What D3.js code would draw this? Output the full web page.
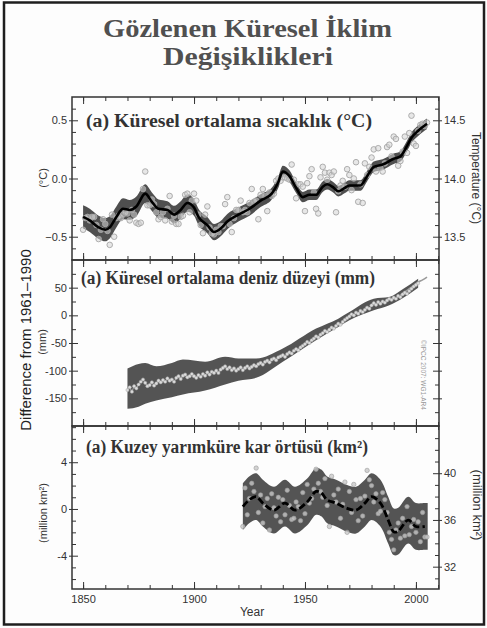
<!DOCTYPE html>
<html>
<head>
<meta charset="utf-8">
<script src="https://cdn.jsdelivr.net/npm/d3@7"></script>
<style>
body { margin: 0; background: #fff; }
text { font-family: "Liberation Sans", Arial, sans-serif; }
.serif { font-family: "Liberation Serif", "Times New Roman", serif; font-weight: bold; }
</style>
</head>
<body>
<svg id="fig" width="487" height="628"></svg>
<script>
// ---- data ----
var tempStart = 1850;
var tempAnnual = [
  -0.44,-0.34,-0.33,-0.36,-0.33,-0.33,-0.40,-0.52,-0.44,-0.35,
  -0.39,-0.45,-0.57,-0.31,-0.50,-0.34,-0.32,-0.34,-0.31,-0.29,
  -0.30,-0.36,-0.27,-0.31,-0.38,-0.39,-0.38,-0.09,0.06,-0.23,
  -0.23,-0.18,-0.22,-0.29,-0.35,-0.33,-0.29,-0.36,-0.26,-0.15,
  -0.37,-0.32,-0.39,-0.39,-0.33,-0.32,-0.14,-0.13,-0.29,-0.19,
  -0.13,-0.19,-0.31,-0.40,-0.47,-0.31,-0.24,-0.42,-0.47,-0.48,
  -0.44,-0.46,-0.41,-0.41,-0.22,-0.16,-0.39,-0.46,-0.34,-0.27,
  -0.27,-0.19,-0.29,-0.27,-0.29,-0.21,-0.09,-0.20,-0.19,-0.35,
  -0.14,-0.09,-0.15,-0.28,-0.12,-0.15,-0.13,-0.02,0.00,-0.02,
  0.01,0.01,0.00,-0.01,0.12,-0.01,-0.17,-0.05,-0.05,-0.07,
  -0.28,-0.04,0.02,0.08,-0.12,-0.26,-0.30,0.01,0.10,0.05,
  -0.01,0.05,0.03,0.06,-0.29,-0.11,-0.06,-0.02,-0.07,0.08,
  0.03,-0.10,0.00,0.14,-0.20,-0.05,-0.21,0.13,0.03,0.10,
  0.18,0.25,0.06,0.26,0.09,0.06,0.13,0.27,0.29,0.19,
  0.36,0.34,0.11,0.15,0.23,0.36,0.22,0.39,0.54,0.30,
  0.28,0.41,0.46,0.47,0.45,0.48
];
var tempSmoothYears = [1850,1853,1857,1860,1862,1865,1868,1871,1874,1878,1881,1884,1888,1891,1894,1897,1900,1902,1906,1909,
  1912,1915,1920,1925,1930,1935,1938,1940,1943,1946,1949,1952,1955,1958,1960,1963,1965,1968,1970,1975,
  1978,1981,1985,1990,1993,1996,1998,2001,2005];
var tempSmooth = [-0.33,-0.36,-0.42,-0.44,-0.42,-0.33,-0.26,-0.27,-0.24,-0.13,-0.20,-0.26,-0.27,-0.31,-0.27,-0.21,-0.25,-0.33,-0.40,-0.46,
  -0.43,-0.37,-0.31,-0.26,-0.19,-0.13,-0.03,0.06,0.02,-0.08,-0.16,-0.14,-0.14,-0.07,-0.05,-0.08,-0.11,-0.08,-0.06,-0.06,
  0.02,0.10,0.12,0.17,0.19,0.28,0.35,0.41,0.47];
var tempSpread = [0.10,0.10,0.10,0.10,0.095,0.09,0.09,0.085,0.085,0.08,0.08,0.08,0.075,0.075,0.075,0.075,0.07,0.07,0.07,0.07,
  0.065,0.065,0.06,0.06,0.055,0.05,0.05,0.05,0.05,0.045,0.045,0.045,0.045,0.045,0.045,0.045,0.045,0.045,0.045,0.045,
  0.045,0.045,0.045,0.045,0.045,0.045,0.045,0.045,0.045];

var seaStart = 1870;
var seaAnnual = [
  -135,-130,-138,-128,-132,-125,-120,-116,-122,-128,
  -126,-121,-127,-123,-118,-121,-117,-120,-114,-118,
  -116,-120,-113,-110,-115,-109,-107,-112,-110,-106,
  -110,-113,-108,-111,-106,-109,-103,-107,-102,-104,
  -100,-104,-98,-95,-92,-97,-94,-99,-96,-100,
  -97,-94,-99,-95,-92,-96,-93,-90,-92,-88,
  -86,-89,-84,-82,-85,-80,-78,-81,-76,-74,
  -72,-75,-70,-67,-69,-64,-61,-63,-58,-55,
  -52,-48,-50,-45,-42,-38,-40,-35,-32,-28,
  -30,-26,-22,-24,-19,-15,-17,-12,-8,-5,
  -2,2,0,5,3,8,6,10,14,12,
  18,22,19,24,21,25,23,27,30,28,
  32,30,35,33,38,41,39,44,48,52,
  55,58
];
var seaBandYears = [1870,1875,1878,1883,1890,1895,1905,1914,1920,1928,1940,1955,1965,1970,1981,1988,1994,2001];
var seaUpper = [-96,-88,-86,-92,-86,-80,-84,-75,-78,-78,-60,-24,-6,6,30,33,47,66];
var seaLower = [-169,-165,-160,-154,-148,-143,-136,-125,-118,-113,-84,-45,-21,-9,9,18,31,50];
var seaSatYears = [1993,1995,1997,1999,2001,2003,2005];
var seaSat = [36,42,48,53,60,64,69];

var snowStart = 1922;
var snowAnnual = [
  -1.5,1.8,-0.5,0.9,2.2,1.5,3.5,-0.3,
  1.2,-1.2,0.2,0.9,-1.8,1.3,0.1,-0.6,1.0,-1.1,
  0.8,-0.5,1.6,0.3,-0.9,-0.8,0.6,0.2,-1.0,1.4,
  -0.4,2.1,0.5,0.9,1.7,3.4,2.2,1.5,1.0,2.6,
  0.3,-1.5,2.8,1.2,0.6,1.7,-0.8,0.4,2.3,-2.0,
  1.5,-0.3,2.1,0.8,-1.0,0.9,-0.6,1.1,3.3,2.5,
  2.0,0.6,1.3,-0.4,-0.2,1.4,0.8,-0.3,-2.0,-2.6,
  -3.5,-1.8,-1.2,-2.5,-0.8,-2.3,0.2,-2.2,-1.5,-0.9,
  -2.0,-1.1,-2.8,-0.3,-2.4,-2.4
];
var snowSmoothYears = [1922,1925,1928,1931,1936,1941,1945.5,1951,1955,1957.5,1960,1964,1969,1973,1977,1980,1984,1987.5,1990,1992,1996.5,2000,2004];
var snowSmooth = [0.2,0.8,1.05,0.5,-0.1,0.5,-0.1,0.6,1.5,1.35,0.77,0.5,0.05,-0.1,0.5,1.05,0.5,-0.95,-1.95,-1.9,-0.95,-1.5,-1.5];
var snowSpread = 2.0;

// tick values
var yearMajor = [1850,1900,1950,2000];
var yearMinor = [1850,1860,1870,1880,1890,1900,1910,1920,1930,1940,1950,1960,1970,1980,1990,2000,2010];
var tempMajor = [-0.5,0,0.5], tempMinor = [-0.6,-0.4,-0.3,-0.2,-0.1,0.1,0.2,0.3,0.4,0.6];
var tempAbsMajor = [13.5,14.0,14.5], tempAbsMinor = [13.4,13.6,13.7,13.8,13.9,14.1,14.2,14.3,14.4,14.6];
var seaMajor = [-150,-100,-50,0,50], seaMinor = [-175,-125,-75,-25,25,75];
var snowMajor = [-4,0,4], snowMinor = [-6,-5,-3,-2,-1,1,2,3,5,6,7];
var snowAbsMajor = [32,36,40], snowAbsMinor = [31,33,34,35,37,38,39,41,42,43];

// ---- layout ----
var svg = d3.select('#fig');
var L = 72, R = 439;
var P1 = {top: 97, bottom: 260}, P2 = {top: 260, bottom: 426}, P3 = {top: 426, bottom: 589};

svg.append('rect').attr('width', 487).attr('height', 628).attr('fill', '#fdfdfd');
svg.append('rect').attr('x', 4).attr('y', 2.5).attr('width', 480).attr('height', 622)
  .attr('fill', 'none').attr('stroke', '#1e1e1e').attr('stroke-width', 2.5);

svg.append('text').attr('class', 'serif').attr('x', 247.5).attr('y', 37).attr('text-anchor', 'middle')
  .attr('font-size', 25).attr('fill', '#505050').attr('textLength', 289).attr('lengthAdjust', 'spacingAndGlyphs')
  .text('Gözlenen Küresel İklim');
svg.append('text').attr('class', 'serif').attr('x', 248).attr('y', 65).attr('text-anchor', 'middle')
  .attr('font-size', 25).attr('fill', '#505050').attr('textLength', 170).attr('lengthAdjust', 'spacingAndGlyphs')
  .text('Değişiklikleri');

var x = d3.scaleLinear().domain([1845, 2010.4]).range([L, R]);
var y1 = d3.scaleLinear().domain([-0.7, 0.7]).range([P1.bottom, P1.top]);
var y1r = d3.scaleLinear().domain([13.3, 14.7]).range([P1.bottom, P1.top]);
var y2 = d3.scaleLinear().domain([-200, 100]).range([P2.bottom, P2.top]);
var y3 = d3.scaleLinear().domain([-6.85, 7.1]).range([P3.bottom, P3.top]);
var y3r = d3.scaleLinear().domain([-6.85 + 36.94, 7.1 + 36.94]).range([P3.bottom, P3.top]);

function clean(g) {
  g.select('.domain').remove();
  g.selectAll('line').attr('stroke', '#333');
  g.selectAll('text').attr('fill', '#333').attr('font-size', 11).attr('font-family', '"Liberation Sans", Arial, sans-serif');
}

function frame(p, yl, lMaj, lMin, lFmt, yr, rMaj, rMin, rFmt) {
  var g = svg.append('g');
  [[p.bottom, d3.axisBottom], [p.top, d3.axisTop]].forEach(function (e) {
    g.append('g').attr('transform', 'translate(0,' + e[0] + ')')
      .call(e[1](x).tickValues(yearMinor).tickSize(-4).tickFormat('')).call(clean);
    g.append('g').attr('transform', 'translate(0,' + e[0] + ')')
      .call(e[1](x).tickValues(yearMajor).tickSize(-7).tickFormat('')).call(clean);
  });
  g.append('g').attr('transform', 'translate(' + L + ',0)')
    .call(d3.axisLeft(yl).tickValues(lMaj).tickSize(3).tickPadding(2).tickFormat(lFmt)).call(clean);
  g.append('g').attr('transform', 'translate(' + L + ',0)')
    .call(d3.axisLeft(yl).tickValues(lMaj).tickSize(-6).tickFormat('')).call(clean);
  g.append('g').attr('transform', 'translate(' + L + ',0)')
    .call(d3.axisLeft(yl).tickValues(lMin).tickSize(-4).tickFormat('')).call(clean);
  g.append('g').attr('transform', 'translate(' + R + ',0)')
    .call(d3.axisRight(yr).tickValues(rMaj).tickSize(3).tickPadding(2).tickFormat(rFmt)).call(clean);
  g.append('g').attr('transform', 'translate(' + R + ',0)')
    .call(d3.axisRight(yr).tickValues(rMaj).tickSize(-6).tickFormat('')).call(clean);
  g.append('g').attr('transform', 'translate(' + R + ',0)')
    .call(d3.axisRight(yr).tickValues(rMin).tickSize(-4).tickFormat('')).call(clean);
  g.append('rect').attr('x', L).attr('y', p.top).attr('width', R - L).attr('height', p.bottom - p.top)
    .attr('fill', 'none').attr('stroke', '#333').attr('stroke-width', 1.5);
}

// ---- panel 1: temperature ----
var t1 = tempSmoothYears.map(function (yr, i) { return {yr: yr, v: tempSmooth[i], s: tempSpread[i]}; });
svg.append('path').datum(t1)
  .attr('d', d3.area().curve(d3.curveMonotoneX).x(function (d) { return x(d.yr); })
    .y0(function (d) { return y1(d.v - d.s); }).y1(function (d) { return y1(d.v + d.s); }))
  .attr('fill', '#4f4f4f');
svg.append('g').selectAll('circle').data(tempAnnual).join('circle')
  .attr('cx', function (d, i) { return x(tempStart + i); }).attr('cy', function (d) { return y1(d); })
  .attr('r', 2.8).attr('fill', '#d6d6d6').attr('fill-opacity', 0.55).attr('stroke', '#a6a6a6').attr('stroke-width', 0.9);
svg.append('path').datum(t1)
  .attr('d', d3.line().curve(d3.curveMonotoneX).x(function (d) { return x(d.yr); }).y(function (d) { return y1(d.v); }))
  .attr('fill', 'none').attr('stroke', '#000').attr('stroke-width', 2.6);

// ---- panel 2: sea level ----
var s2 = seaBandYears.map(function (yr, i) { return {yr: yr, hi: seaUpper[i], lo: seaLower[i]}; });
svg.append('path').datum(s2)
  .attr('d', d3.area().curve(d3.curveMonotoneX).x(function (d) { return x(d.yr); })
    .y0(function (d) { return y2(d.lo); }).y1(function (d) { return y2(d.hi); }))
  .attr('fill', '#545454');
svg.append('path').datum(seaSat)
  .attr('d', d3.line().curve(d3.curveMonotoneX).x(function (d, i) { return x(seaSatYears[i]); }).y(function (d) { return y2(d); }))
  .attr('fill', 'none').attr('stroke', '#9a9a9a').attr('stroke-width', 1.6);
svg.append('path').datum(seaAnnual)
  .attr('d', d3.line().x(function (d, i) { return x(seaStart + i); }).y(function (d) { return y2(d); }))
  .attr('fill', 'none').attr('stroke', '#bdbdbd').attr('stroke-width', 0.8);
svg.append('g').selectAll('circle').data(seaAnnual).join('circle')
  .attr('cx', function (d, i) { return x(seaStart + i); }).attr('cy', function (d) { return y2(d); })
  .attr('r', 1.6).attr('fill', '#dcdcdc').attr('stroke', '#a8a8a8').attr('stroke-width', 0.5);

// ---- panel 3: snow cover ----
var n3 = snowSmoothYears.map(function (yr, i) { return {yr: yr, v: snowSmooth[i]}; });
var n3band = [{yr: snowStart, v: snowSmooth[0]}].concat(n3.slice(1), [{yr: 2005.3, v: snowSmooth[snowSmooth.length - 1]}]);
svg.append('path').datum(n3band)
  .attr('d', d3.area().curve(d3.curveCatmullRom).x(function (d) { return x(d.yr); })
    .y0(function (d) { return y3(d.v - snowSpread); }).y1(function (d) { return y3(d.v + snowSpread); }))
  .attr('fill', '#545454');
svg.append('g').selectAll('circle').data(snowAnnual).join('circle')
  .attr('cx', function (d, i) { return x(snowStart + i); }).attr('cy', function (d) { return y3(d); })
  .attr('r', 2.2).attr('fill', '#c8c8c8').attr('fill-opacity', 0.8).attr('stroke', '#9a9a9a').attr('stroke-width', 0.6);
svg.append('path').datum(n3)
  .attr('d', d3.line().curve(d3.curveCatmullRom).x(function (d) { return x(d.yr); }).y(function (d) { return y3(d.v); }))
  .attr('fill', 'none').attr('stroke', '#000').attr('stroke-width', 2.8).attr('stroke-dasharray', '7,3');

// frames and axes on top
var f1 = d3.format('.1f');
var plain = function (d) { return String(d); };
frame(P1, y1, tempMajor, tempMinor, f1, y1r, tempAbsMajor, tempAbsMinor, f1);
frame(P2, y2, seaMajor, seaMinor, plain, y2, seaMajor, seaMinor, '');
frame(P3, y3, snowMajor, snowMinor, plain, y3r, snowAbsMajor, snowAbsMinor, plain);

svg.append('g').attr('transform', 'translate(0,' + P3.bottom + ')')
  .call(d3.axisBottom(x).tickValues(yearMajor).tickSize(0).tickPadding(6).tickFormat(d3.format('d'))).call(clean);

// ---- panel titles ----
function panelTitle(t, xx, yy, w) {
  svg.append('text').attr('class', 'serif').attr('x', xx).attr('y', yy).attr('font-size', 18)
    .attr('fill', '#333').attr('textLength', w).attr('lengthAdjust', 'spacingAndGlyphs').text(t);
}
panelTitle('(a) Küresel ortalama sıcaklık (°C)', 86, 127, 286);
panelTitle('(a) Küresel ortalama deniz düzeyi (mm)', 81, 284, 294);
panelTitle('(a) Kuzey yarımküre kar örtüsü (km²)', 86, 453, 282);

// ---- axis titles ----
function vtext(t, xx, yy, size, rot, fill) {
  svg.append('text').attr('transform', 'translate(' + xx + ',' + yy + ') rotate(' + rot + ')')
    .attr('text-anchor', 'middle').attr('font-size', size).attr('fill', fill || '#333').text(t);
}
vtext('Difference from 1961–1990', 31, 340, 15, -90, '#222');
vtext('(°C)', 47, 178, 11, -90);
vtext('(mm)', 46, 342, 11, -90);
vtext('(million km²)', 47, 513, 11, -90);
vtext('Temperature (°C)', 472, 178, 12, 90);
vtext('(million km²)', 473, 505, 13, 90);
vtext('©IPCC 2007: WG1-AR4', 421, 375, 6.5, 90, '#999');

svg.append('text').attr('x', 252).attr('y', 616).attr('text-anchor', 'middle').attr('font-size', 12)
  .attr('fill', '#333').text('Year');
</script>
</body>
</html>
